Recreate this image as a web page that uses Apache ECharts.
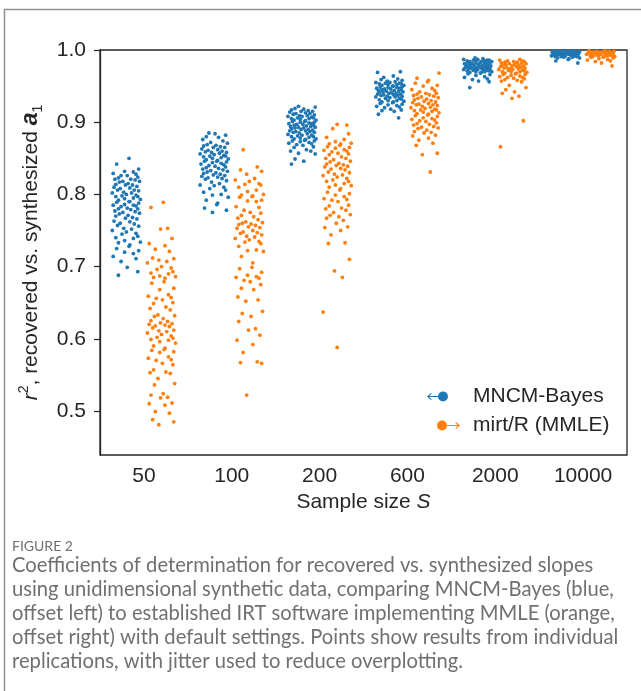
<!DOCTYPE html>
<html>
  <head>
    <meta charset="utf-8" />
    <title>r2 recovered vs synthesized slopes</title>
    <script src="https://cdn.jsdelivr.net/npm/echarts@6/dist/echarts.min.js"></script>
    <style>
      * {
        margin: 0;
        padding: 0;
        box-sizing: border-box;
      }
      body {
        background: #fff;
      }
    </style>
  </head>
  <body>
    <div id="main" style="width: 641px; height: 691px"></div>
    <script type="text/javascript">
      // sample sizes (x categories)
      const sampleSizes = ["50", "100", "200", "600", "2000", "10000"];

      // r^2 per replication, MNCM-Bayes (blue), one list per sample size
      const bayes50 = [0.850, 0.842, 0.835, 0.832, 0.831, 0.829, 0.828, 0.826, 0.826, 0.824, 0.823, 0.821, 0.821, 0.820, 0.818, 0.818, 0.817, 0.815, 0.814, 0.813, 0.813, 0.811, 0.810, 0.809, 0.808, 0.806, 0.806, 0.805, 0.803, 0.802, 0.802, 0.800, 0.799, 0.798, 0.797, 0.797, 0.795, 0.794, 0.793, 0.792, 0.790, 0.790, 0.789, 0.788, 0.786, 0.785, 0.785, 0.784, 0.783, 0.781, 0.780, 0.780, 0.779, 0.777, 0.776, 0.775, 0.774, 0.773, 0.771, 0.770, 0.768, 0.767, 0.766, 0.763, 0.762, 0.760, 0.759, 0.757, 0.756, 0.753, 0.752, 0.750, 0.748, 0.746, 0.745, 0.742, 0.740, 0.739, 0.736, 0.734, 0.733, 0.730, 0.728, 0.725, 0.722, 0.720, 0.718, 0.714, 0.711, 0.707, 0.699, 0.693, 0.688];
      const bayes100 = [0.885, 0.884, 0.882, 0.880, 0.879, 0.876, 0.874, 0.872, 0.871, 0.869, 0.868, 0.867, 0.866, 0.865, 0.865, 0.863, 0.862, 0.861, 0.860, 0.859, 0.858, 0.858, 0.857, 0.856, 0.855, 0.854, 0.853, 0.853, 0.852, 0.851, 0.850, 0.849, 0.848, 0.847, 0.846, 0.846, 0.845, 0.844, 0.843, 0.842, 0.841, 0.840, 0.839, 0.838, 0.837, 0.836, 0.835, 0.834, 0.833, 0.832, 0.831, 0.830, 0.829, 0.828, 0.827, 0.826, 0.825, 0.824, 0.823, 0.822, 0.821, 0.819, 0.817, 0.815, 0.813, 0.812, 0.810, 0.808, 0.806, 0.803, 0.800, 0.799, 0.796, 0.792, 0.788, 0.786, 0.781, 0.778, 0.775];
      const bayes200 = [0.922, 0.921, 0.919, 0.918, 0.917, 0.916, 0.915, 0.915, 0.914, 0.913, 0.912, 0.912, 0.911, 0.910, 0.909, 0.909, 0.908, 0.908, 0.907, 0.906, 0.906, 0.905, 0.905, 0.904, 0.903, 0.903, 0.902, 0.901, 0.901, 0.900, 0.900, 0.899, 0.898, 0.898, 0.897, 0.897, 0.896, 0.896, 0.895, 0.894, 0.894, 0.893, 0.893, 0.892, 0.892, 0.891, 0.890, 0.890, 0.889, 0.888, 0.888, 0.887, 0.887, 0.886, 0.886, 0.885, 0.884, 0.883, 0.882, 0.882, 0.881, 0.880, 0.880, 0.879, 0.878, 0.877, 0.877, 0.876, 0.875, 0.874, 0.874, 0.873, 0.872, 0.871, 0.870, 0.869, 0.868, 0.866, 0.865, 0.862, 0.860, 0.860, 0.857, 0.856, 0.849, 0.846, 0.842];
      const bayes600 = [0.970, 0.969, 0.964, 0.962, 0.960, 0.959, 0.958, 0.957, 0.956, 0.955, 0.955, 0.954, 0.954, 0.953, 0.953, 0.952, 0.952, 0.951, 0.951, 0.950, 0.950, 0.949, 0.949, 0.948, 0.948, 0.947, 0.947, 0.946, 0.946, 0.945, 0.945, 0.944, 0.944, 0.943, 0.943, 0.942, 0.942, 0.941, 0.941, 0.940, 0.940, 0.939, 0.939, 0.938, 0.938, 0.937, 0.937, 0.936, 0.936, 0.935, 0.935, 0.934, 0.933, 0.933, 0.932, 0.931, 0.930, 0.930, 0.929, 0.928, 0.928, 0.927, 0.926, 0.925, 0.924, 0.923, 0.922, 0.921, 0.920, 0.918, 0.917, 0.916, 0.915, 0.911, 0.906];
      const bayes2000 = [0.989, 0.988, 0.987, 0.987, 0.986, 0.986, 0.986, 0.985, 0.985, 0.985, 0.984, 0.984, 0.984, 0.983, 0.983, 0.983, 0.982, 0.982, 0.981, 0.981, 0.981, 0.980, 0.980, 0.980, 0.979, 0.979, 0.979, 0.978, 0.978, 0.978, 0.977, 0.977, 0.977, 0.976, 0.976, 0.976, 0.975, 0.975, 0.975, 0.974, 0.974, 0.974, 0.973, 0.973, 0.973, 0.972, 0.972, 0.971, 0.971, 0.970, 0.970, 0.970, 0.969, 0.969, 0.968, 0.967, 0.966, 0.965, 0.963, 0.962, 0.960, 0.959, 0.957, 0.956, 0.948];
      const bayes10000 = [0.999, 0.999, 0.999, 0.998, 0.998, 0.998, 0.998, 0.998, 0.997, 0.997, 0.997, 0.997, 0.997, 0.997, 0.996, 0.996, 0.996, 0.996, 0.996, 0.996, 0.995, 0.995, 0.995, 0.995, 0.995, 0.995, 0.994, 0.994, 0.994, 0.994, 0.994, 0.993, 0.993, 0.993, 0.993, 0.993, 0.992, 0.992, 0.992, 0.991, 0.991, 0.991, 0.990, 0.990, 0.989, 0.989, 0.988, 0.987, 0.985, 0.982];

      // r^2 per replication, mirt/R MMLE (orange)
      const mirt50 = [0.789, 0.782, 0.753, 0.752, 0.739, 0.732, 0.729, 0.724, 0.721, 0.712, 0.711, 0.709, 0.707, 0.705, 0.700, 0.698, 0.696, 0.693, 0.691, 0.690, 0.687, 0.686, 0.685, 0.684, 0.679, 0.677, 0.670, 0.668, 0.661, 0.659, 0.657, 0.656, 0.654, 0.650, 0.649, 0.644, 0.642, 0.640, 0.633, 0.632, 0.631, 0.628, 0.625, 0.624, 0.622, 0.621, 0.620, 0.619, 0.618, 0.617, 0.615, 0.612, 0.611, 0.610, 0.608, 0.606, 0.604, 0.602, 0.601, 0.599, 0.598, 0.596, 0.594, 0.590, 0.587, 0.585, 0.584, 0.582, 0.581, 0.575, 0.573, 0.571, 0.570, 0.566, 0.564, 0.557, 0.554, 0.553, 0.552, 0.545, 0.538, 0.536, 0.524, 0.522, 0.519, 0.518, 0.511, 0.510, 0.508, 0.499, 0.497, 0.488, 0.485, 0.481];
      const mirt100 = [0.862, 0.838, 0.834, 0.832, 0.828, 0.822, 0.820, 0.818, 0.815, 0.814, 0.813, 0.810, 0.806, 0.804, 0.800, 0.799, 0.798, 0.797, 0.796, 0.792, 0.791, 0.790, 0.783, 0.782, 0.778, 0.775, 0.774, 0.771, 0.769, 0.767, 0.765, 0.762, 0.761, 0.760, 0.759, 0.758, 0.757, 0.755, 0.754, 0.753, 0.750, 0.748, 0.747, 0.746, 0.744, 0.742, 0.741, 0.739, 0.737, 0.735, 0.734, 0.732, 0.728, 0.723, 0.722, 0.721, 0.714, 0.705, 0.699, 0.697, 0.692, 0.688, 0.686, 0.685, 0.684, 0.681, 0.679, 0.675, 0.670, 0.668, 0.658, 0.654, 0.652, 0.638, 0.635, 0.631, 0.624, 0.614, 0.612, 0.605, 0.598, 0.592, 0.581, 0.568, 0.567, 0.566, 0.522];
      const mirt200 = [0.897, 0.896, 0.891, 0.884, 0.879, 0.876, 0.873, 0.871, 0.870, 0.870, 0.868, 0.866, 0.865, 0.864, 0.862, 0.861, 0.860, 0.859, 0.857, 0.856, 0.855, 0.852, 0.850, 0.850, 0.848, 0.846, 0.845, 0.843, 0.842, 0.841, 0.840, 0.839, 0.838, 0.836, 0.835, 0.834, 0.831, 0.830, 0.828, 0.827, 0.826, 0.824, 0.822, 0.820, 0.818, 0.818, 0.815, 0.813, 0.812, 0.810, 0.808, 0.806, 0.803, 0.801, 0.799, 0.797, 0.794, 0.793, 0.792, 0.790, 0.785, 0.784, 0.781, 0.780, 0.778, 0.775, 0.772, 0.771, 0.769, 0.767, 0.764, 0.760, 0.755, 0.754, 0.750, 0.744, 0.733, 0.732, 0.710, 0.694, 0.685, 0.637, 0.588];
      const mirt600 = [0.968, 0.961, 0.958, 0.956, 0.954, 0.951, 0.950, 0.947, 0.945, 0.944, 0.942, 0.940, 0.940, 0.939, 0.938, 0.937, 0.936, 0.935, 0.934, 0.933, 0.932, 0.931, 0.930, 0.929, 0.928, 0.927, 0.926, 0.925, 0.924, 0.924, 0.923, 0.922, 0.921, 0.920, 0.919, 0.918, 0.917, 0.917, 0.916, 0.915, 0.914, 0.913, 0.912, 0.911, 0.910, 0.909, 0.908, 0.906, 0.905, 0.904, 0.903, 0.902, 0.901, 0.899, 0.898, 0.897, 0.896, 0.894, 0.893, 0.892, 0.891, 0.889, 0.887, 0.886, 0.885, 0.882, 0.881, 0.878, 0.875, 0.871, 0.868, 0.857, 0.855, 0.831];
      const mirt2000 = [0.987, 0.986, 0.985, 0.985, 0.984, 0.984, 0.983, 0.983, 0.982, 0.982, 0.981, 0.981, 0.980, 0.980, 0.979, 0.979, 0.978, 0.978, 0.977, 0.977, 0.976, 0.976, 0.975, 0.975, 0.974, 0.974, 0.973, 0.973, 0.972, 0.972, 0.971, 0.970, 0.970, 0.970, 0.969, 0.968, 0.968, 0.967, 0.966, 0.966, 0.965, 0.964, 0.963, 0.962, 0.962, 0.961, 0.960, 0.959, 0.958, 0.957, 0.956, 0.951, 0.948, 0.945, 0.942, 0.940, 0.936, 0.933, 0.902, 0.866];
      const mirt10000 = [0.999, 0.999, 0.998, 0.998, 0.998, 0.997, 0.997, 0.997, 0.997, 0.996, 0.996, 0.996, 0.996, 0.995, 0.995, 0.995, 0.995, 0.994, 0.994, 0.994, 0.994, 0.993, 0.993, 0.993, 0.992, 0.992, 0.992, 0.991, 0.991, 0.991, 0.990, 0.990, 0.989, 0.988, 0.987, 0.986, 0.985, 0.984, 0.982, 0.978];

      const bayesGroups = [bayes50, bayes100, bayes200, bayes600, bayes2000, bayes10000];
      const mirtGroups = [mirt50, mirt100, mirt200, mirt600, mirt2000, mirt10000];

      // horizontal jitter offsets (category units), reused cyclically
      const jitter = [0.03, -0.11, 0.14, -0.02, 0.08, -0.15, 0.11, -0.06, 0.01, 0.13, -0.09, 0.05, -0.13, 0.1, -0.04, 0.15, -0.08, 0.02, -0.12, 0.07, -0.01, 0.12, -0.14, 0.04, -0.07, 0.09, -0.1, 0.14, -0.03, 0.06, -0.16, 0.0, 0.11, -0.05, 0.13, -0.12, 0.08, -0.02, 0.16, -0.09, 0.04];

      function strip(groups, side, shift) {
        const pts = [];
        groups.forEach((vals, g) => {
          vals.forEach((v, k) => {
            pts.push([g + side + jitter[(k + g * 7 + shift) % jitter.length], v]);
          });
        });
        return pts;
      }

      const font = "Liberation Sans, Arial, sans-serif";
      const ink = "#262626";
      const blue = "#1f77b4";
      const orange = "#ff7f0e";

      // legend markers: arrow + dot
      const bayesIcon =
        "path://M0,5 L4,1.6 L4.7,2.3 L2.3,4.4 L11,4.4 L11,5.6 L2.3,5.6 L4.7,7.7 L4,8.4 Z M11,5 A5,5 0 1 0 21,5 A5,5 0 1 0 11,5 Z M33.9,5 L34,5 L34,5.1 Z";
      const mirtIcon =
        "path://M0,5 L0.1,5 L0,5.1 Z M10,5 A5,5 0 1 0 20,5 A5,5 0 1 0 10,5 Z M20,4.4 L30.7,4.4 L28.3,2.3 L29,1.6 L33,5 L29,8.4 L28.3,7.7 L30.7,5.6 L20,5.6 Z M33.9,5 L34,5 L34,5.1 Z";

      var myChart = echarts.init(document.getElementById("main"));

      var option = {
        animation: false,
        backgroundColor: "#fff",
        grid: {
          left: 100,
          right: 14,
          top: 50,
          bottom: 236,
          show: true,
          borderColor: ink,
          borderWidth: 1.3,
        },
        legend: {
          orient: "vertical",
          left: 422,
          top: 381,
          itemWidth: 34,
          itemHeight: 10,
          itemGap: 8,
          textStyle: {
            fontFamily: font,
            fontSize: 21,
            color: ink,
            padding: [0, 0, 0, 7],
          },
          data: [
            { name: "MNCM-Bayes", icon: bayesIcon },
            { name: "mirt/R (MMLE)", icon: mirtIcon },
          ],
        },
        xAxis: {
          type: "value",
          min: -0.5,
          max: 5.5,
          name: "{t|Sample size }{i|S}",
          nameLocation: "middle",
          nameGap: 26,
          nameTextStyle: {
            rich: {
              t: { fontFamily: font, fontSize: 21, color: ink },
              i: { fontFamily: font, fontSize: 21, color: ink, fontStyle: "italic" },
            },
          },
          axisLine: { show: false, onZero: false },
          axisTick: { show: false },
          splitLine: { show: false },
          axisLabel: {
            customValues: [0, 1, 2, 3, 4, 5],
            formatter: (v) => sampleSizes[Math.round(v)],
            fontFamily: font,
            fontSize: 21,
            color: ink,
            margin: 11,
          },
        },
        yAxis: {
          type: "value",
          min: 0.439,
          max: 1.0,
          name: "{it|r}{sup|2}{t|, recovered vs. synthesized }{ba|a}{sub|1}",
          nameLocation: "middle",
          nameRotate: 90,
          nameGap: 55,
          nameTextStyle: {
            rich: {
              it: { fontFamily: font, fontSize: 21, fontStyle: "italic", color: ink, lineHeight: 28 },
              sup: { fontFamily: font, fontSize: 14, color: ink, verticalAlign: "top", lineHeight: 28 },
              t: { fontFamily: font, fontSize: 21, color: ink, lineHeight: 28 },
              ba: { fontFamily: font, fontSize: 23, fontStyle: "italic", fontWeight: "bold", color: ink, lineHeight: 28 },
              sub: { fontFamily: font, fontSize: 14, color: ink, verticalAlign: "bottom", lineHeight: 28 },
            },
          },
          axisLine: { show: true, onZero: false, lineStyle: { color: ink, width: 1.3 } },
          axisTick: {
            show: true,
            customValues: [0.5, 0.6, 0.7, 0.8, 0.9, 1.0],
            length: 6,
            lineStyle: { color: ink, width: 1.2 },
          },
          splitLine: { show: false },
          axisLabel: {
            customValues: [0.5, 0.6, 0.7, 0.8, 0.9, 1.0],
            formatter: (v) => v.toFixed(1),
            fontFamily: font,
            fontSize: 21,
            color: ink,
            margin: 14,
          },
        },
        series: [
          {
            name: "MNCM-Bayes",
            type: "scatter",
            symbol: "circle",
            symbolSize: 3.8,
            itemStyle: { color: blue, opacity: 1 },
            data: strip(bayesGroups, -0.2, 0),
          },
          {
            name: "mirt/R (MMLE)",
            type: "scatter",
            symbol: "circle",
            symbolSize: 3.8,
            itemStyle: { color: orange, opacity: 1 },
            data: strip(mirtGroups, 0.2, 17),
          },
        ],
        graphic: [
          {
            type: "rect",
            z: -10,
            shape: { x: 4.5, y: 9.5, width: 700, height: 720 },
            style: { fill: "none", stroke: "#8f8f8f", lineWidth: 1.5 },
          },
          {
            type: "text",
            left: 12,
            top: 539,
            style: {
              text: "FIGURE 2",
              fontFamily: "Lato",
              fontSize: 14,
              fill: "#707070",
            },
          },
          {
            type: "text",
            left: 12,
            top: 553,
            style: {
              text:
                "Coefficients of determination for recovered vs. synthesized slopes\n" +
                "using unidimensional synthetic data, comparing MNCM-Bayes (blue,\n" +
                "offset left) to established IRT software implementing MMLE (orange,\n" +
                "offset right) with default settings. Points show results from individual\n" +
                "replications, with jitter used to reduce overplotting.",
              fontFamily: "Lato",
              fontSize: 20.2,
              lineHeight: 24,
              fill: "#707070",
            },
          },
        ],
      };

      myChart.setOption(option);

      window.addEventListener("resize", function () {
        myChart.resize();
      });
    </script>
  </body>
</html>
